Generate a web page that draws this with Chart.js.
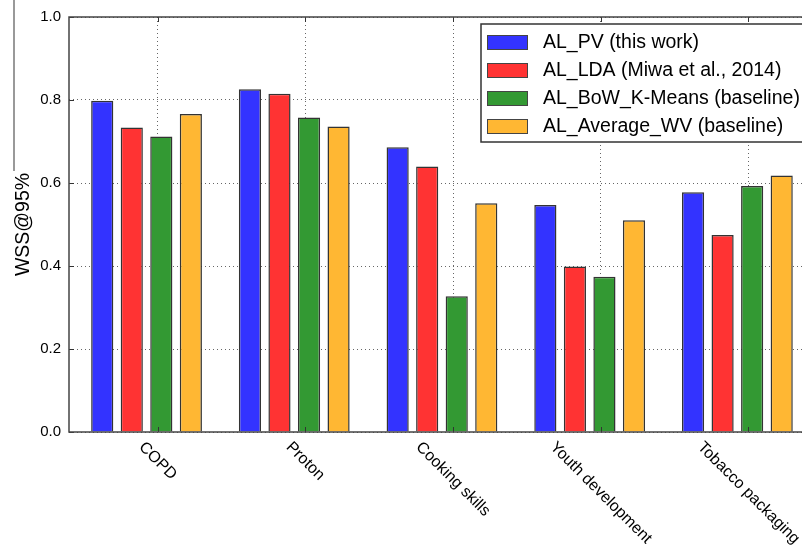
<!DOCTYPE html>
<html>
<head>
<meta charset="utf-8">
<script src="https://cdn.jsdelivr.net/npm/chart.js@4.4.1/dist/chart.umd.min.js"></script>
<style>
  html, body { margin: 0; padding: 0; background: #fff; }
  #wrap { width: 802px; height: 551px; overflow: hidden; }
  canvas { display: block; }
</style>
</head>
<body>
<div id="wrap"><canvas id="chartWss" width="850" height="551"></canvas></div>
<script>
const categories = ['COPD', 'Proton', 'Cooking skills', 'Youth development', 'Tobacco packaging'];
const seriesNames = ['AL_PV (this work)', 'AL_LDA (Miwa et al., 2014)', 'AL_BoW_K-Means (baseline)', 'AL_Average_WV (baseline)'];
const alPV    = [0.798, 0.826, 0.686, 0.547, 0.578];
const alLDA   = [0.734, 0.815, 0.640, 0.399, 0.475];
const alBoW   = [0.712, 0.758, 0.327, 0.374, 0.593];
const alAvgWV = [0.766, 0.736, 0.551, 0.510, 0.618];
const yTicks = [0.0, 0.2, 0.4, 0.6, 0.8, 1.0];

const barColors = ['#3333ff', '#ff3333', '#339933', '#ffb733'];
const FONT = '"Liberation Sans", Arial, sans-serif';
// category ticks sit a little right of the bar group centres, as in the original
const TICK_SHIFT = 0.075;

document.addEventListener('DOMContentLoaded', function () {
  chartWss();
});

function line(ctx, x1, y1, x2, y2) {
  ctx.beginPath();
  ctx.moveTo(x1, y1);
  ctx.lineTo(x2, y2);
  ctx.stroke();
}

const frameAndLabels = {
  id: 'frameAndLabels',
  afterDraw(chart) {
    const ctx = chart.ctx;
    const a = chart.chartArea;
    const x = chart.scales.x;
    const y = chart.scales.y;
    ctx.save();

    // inward tick marks
    ctx.strokeStyle = '#333';
    ctx.lineWidth = 1;
    x.ticks.forEach(t => {
      const px = Math.round(x.getPixelForValue(t.value)) + 0.5;
      line(ctx, px, a.bottom, px, a.bottom - 5);
      line(ctx, px, a.top, px, a.top + 5);
    });
    y.ticks.forEach(t => {
      const py = Math.round(y.getPixelForValue(t.value)) + 0.5;
      line(ctx, a.left, py, a.left + 5, py);
      line(ctx, a.right, py, a.right - 5, py);
    });

    // frame
    ctx.strokeStyle = '#444';
    ctx.lineWidth = 1.5;
    ctx.strokeRect(a.left, a.top, a.right - a.left, a.bottom - a.top);

    // rotated category labels
    ctx.font = '16px ' + FONT;
    ctx.fillStyle = '#000';
    ctx.textAlign = 'center';
    ctx.textBaseline = 'middle';
    x.ticks.forEach((t, i) => {
      const w = ctx.measureText(categories[i]).width;
      const box = (w + 16) * Math.SQRT1_2;
      ctx.save();
      ctx.translate(x.getPixelForValue(t.value), a.bottom + 7 + box / 2);
      ctx.rotate(Math.PI / 4);
      ctx.fillText(categories[i], 0, 0);
      ctx.restore();
    });

    // legend box
    ctx.fillStyle = '#fff';
    ctx.fillRect(481, 24, 380, 118);
    ctx.strokeStyle = '#333';
    ctx.lineWidth = 1.5;
    ctx.strokeRect(481, 24, 380, 118);
    ctx.font = '19.5px ' + FONT;
    ctx.textAlign = 'left';
    chart.data.datasets.forEach((ds, i) => {
      const cy = 42 + i * 28;
      ctx.fillStyle = ds.backgroundColor;
      ctx.fillRect(487, cy - 7, 40, 14);
      ctx.strokeStyle = '#444';
      ctx.lineWidth = 1;
      ctx.strokeRect(487.5, cy - 6.5, 40, 14);
      ctx.fillStyle = '#000';
      ctx.fillText(ds.label, 543, cy + 1);
    });

    // stray rule left of the axis title
    ctx.strokeStyle = '#777';
    ctx.lineWidth = 1.5;
    line(ctx, 14, 0, 14, 171);

    ctx.restore();
  }
};

function chartWss() {
  const canvaWss = document.getElementById('chartWss').getContext('2d');
  const seriesValues = [alPV, alLDA, alBoW, alAvgWV];

  new Chart(canvaWss, {
    type: 'bar',
    data: {
      datasets: seriesValues.map((vals, s) => ({
        label: seriesNames[s],
        data: vals.map((v, i) => ({ x: i, y: v })),
        backgroundColor: barColors[s],
        borderColor: '#333',
        borderWidth: 1.5,
        barPercentage: 0.75,
        categoryPercentage: 0.8
      }))
    },
    options: {
      responsive: false,
      animation: false,
      layout: { padding: { top: 15, right: 24, left: 0, bottom: 0 } },
      plugins: {
        legend: { display: false },
        tooltip: { enabled: false }
      },
      scales: {
        x: {
          type: 'linear',
          min: -0.525,
          max: 4.6,
          offset: false,
          z: 1,
          afterBuildTicks: scale => {
            scale.ticks = categories.map((c, i) => ({ value: i + TICK_SHIFT }));
          },
          afterFit: scale => { scale.height = 119; },
          ticks: { display: false },
          grid: { offset: false, drawTicks: false, color: 'rgba(0,0,0,0.6)', lineWidth: 1 },
          border: { display: false, dash: [1, 3] }
        },
        y: {
          min: 0,
          max: 1,
          z: 1,
          afterBuildTicks: scale => {
            scale.ticks = yTicks.map(v => ({ value: v }));
          },
          afterFit: scale => { scale.width = 69; },
          ticks: {
            padding: 8,
            color: '#000',
            font: { family: FONT, size: 15 },
            callback: v => v.toFixed(1)
          },
          grid: { drawTicks: false, color: 'rgba(0,0,0,0.6)', lineWidth: 1 },
          border: { display: false, dash: [1, 3] },
          title: {
            display: true,
            text: 'WSS@95%',
            color: '#000',
            font: { family: FONT, size: 19.5 },
            padding: { top: 12, bottom: 0 }
          }
        }
      }
    },
    plugins: [frameAndLabels]
  });
}
</script>
</body>
</html>
